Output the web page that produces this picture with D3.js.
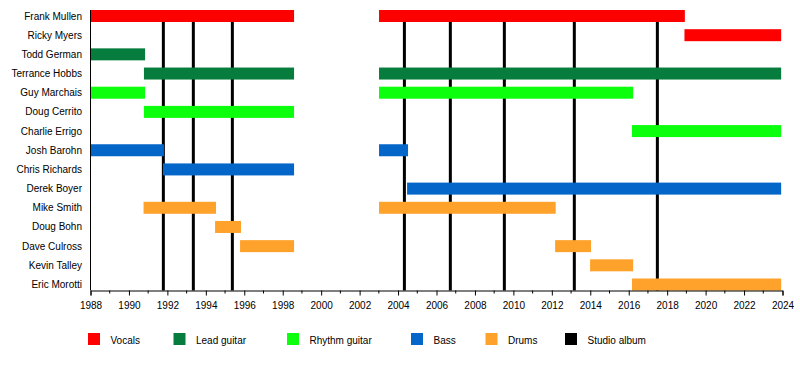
<!DOCTYPE html>
<html>
<head>
<meta charset="utf-8">
<script src="https://cdn.jsdelivr.net/npm/d3@7"></script>
<style>
  html, body { margin: 0; padding: 0; background: #fff; }
  svg { display: block; font-family: "Liberation Sans", Arial, sans-serif; }
</style>
</head>
<body>
<svg id="chart" width="800" height="370"></svg>
<script>
// ---- Data ----
const members = ["Frank Mullen", "Ricky Myers", "Todd German", "Terrance Hobbs", "Guy Marchais",
  "Doug Cerrito", "Charlie Errigo", "Josh Barohn", "Chris Richards", "Derek Boyer",
  "Mike Smith", "Doug Bohn", "Dave Culross", "Kevin Talley", "Eric Morotti"];

const roles = ["Vocals", "Lead guitar", "Rhythm guitar", "Bass", "Drums", "Studio album"];
const roleColors = ["#ff0000", "#077d3d", "#0cff0c", "#0566c9", "#ffa22c", "#000000"];

// [member, role, start, end]
const periods = [
  ["Frank Mullen", "Vocals", 1988.0, 1998.59],
  ["Frank Mullen", "Vocals", 2003.01, 2018.92],
  ["Ricky Myers", "Vocals", 2018.9, 2023.93],
  ["Todd German", "Lead guitar", 1988.0, 1990.84],
  ["Terrance Hobbs", "Lead guitar", 1990.78, 1998.59],
  ["Terrance Hobbs", "Lead guitar", 2003.01, 2023.93],
  ["Guy Marchais", "Rhythm guitar", 1988.0, 1990.84],
  ["Guy Marchais", "Rhythm guitar", 2003.01, 2016.23],
  ["Doug Cerrito", "Rhythm guitar", 1990.78, 1998.59],
  ["Charlie Errigo", "Rhythm guitar", 2016.17, 2023.93],
  ["Josh Barohn", "Bass", 1988.0, 1991.82],
  ["Josh Barohn", "Bass", 2003.01, 2004.52],
  ["Chris Richards", "Bass", 1991.77, 1998.59],
  ["Derek Boyer", "Bass", 2004.47, 2023.93],
  ["Mike Smith", "Drums", 1990.76, 1994.53],
  ["Mike Smith", "Drums", 2003.01, 2012.2],
  ["Doug Bohn", "Drums", 1994.48, 1995.83],
  ["Dave Culross", "Drums", 1995.78, 1998.59],
  ["Dave Culross", "Drums", 2012.17, 2014.04],
  ["Kevin Talley", "Drums", 2013.99, 2016.23],
  ["Eric Morotti", "Drums", 2016.17, 2023.93]
];

const albums = [1991.79, 1993.35, 1995.38, 2004.33, 2006.72, 2009.53, 2013.17, 2017.49];

const yearStart = 1988, yearEnd = 2024;
const labelYears = d3.range(1988, 2025, 2);
const minorYears = d3.range(1989, 2024, 2);

// ---- Drawing ----
const svg = d3.select("#chart");
const x = d3.scaleLinear().domain([yearStart, yearEnd]).range([90.5, 782.5]);
const y = d3.scalePoint().domain(members).range([16, 284.5]);
const color = d3.scaleOrdinal().domain(roles).range(roleColors);
const barH = 12;
const plotTop = 10, axisY = 290.5;

// album lines (behind bars)
svg.append("g").selectAll("line").data(albums).join("line")
  .attr("x1", d => x(d)).attr("x2", d => x(d))
  .attr("y1", plotTop).attr("y2", axisY)
  .attr("stroke", "#000").attr("stroke-width", 3);

// bars
svg.append("g").selectAll("rect").data(periods).join("rect")
  .attr("x", d => x(d[2]))
  .attr("width", d => x(d[3]) - x(d[2]))
  .attr("y", d => y(d[0]) - barH / 2)
  .attr("height", barH)
  .attr("fill", d => color(d[1]));

// left axis line
svg.append("line")
  .attr("x1", x(yearStart)).attr("x2", x(yearStart))
  .attr("y1", plotTop).attr("y2", axisY)
  .attr("stroke", "#000").attr("stroke-width", 1);

// member labels
svg.append("g").selectAll("text").data(members).join("text")
  .attr("x", 82).attr("y", d => y(d)).attr("dy", "0.35em")
  .attr("text-anchor", "end").attr("font-size", 10).attr("fill", "#000")
  .text(d => d);

// bottom axis
const axis = d3.axisBottom(x).tickValues(labelYears).tickFormat(d3.format("d"))
  .tickSize(5).tickPadding(6);
const gAxis = svg.append("g").attr("transform", `translate(0,${axisY})`).call(axis);
gAxis.select(".domain").attr("stroke", "#000");
gAxis.selectAll(".tick line").attr("stroke", "#000");
gAxis.selectAll(".tick text").attr("font-size", 10).attr("fill", "#000")
  .attr("font-family", "'Liberation Sans', Arial, sans-serif");
gAxis.append("g").selectAll("line").data(minorYears).join("line")
  .attr("x1", d => x(d)).attr("x2", d => x(d))
  .attr("y1", 0).attr("y2", 3).attr("stroke", "#000");

// legend
const legendX = [88, 173.5, 287, 411, 485.5, 565];
const lg = svg.append("g").selectAll("g").data(roles).join("g")
  .attr("transform", (d, i) => `translate(${legendX[i]},333)`);
lg.append("rect").attr("width", 12).attr("height", 12).attr("fill", d => color(d));
lg.append("text").attr("x", 22.5).attr("y", 7).attr("dy", "0.35em")
  .attr("font-size", 10).attr("fill", "#000").text(d => d);
</script>
</body>
</html>
